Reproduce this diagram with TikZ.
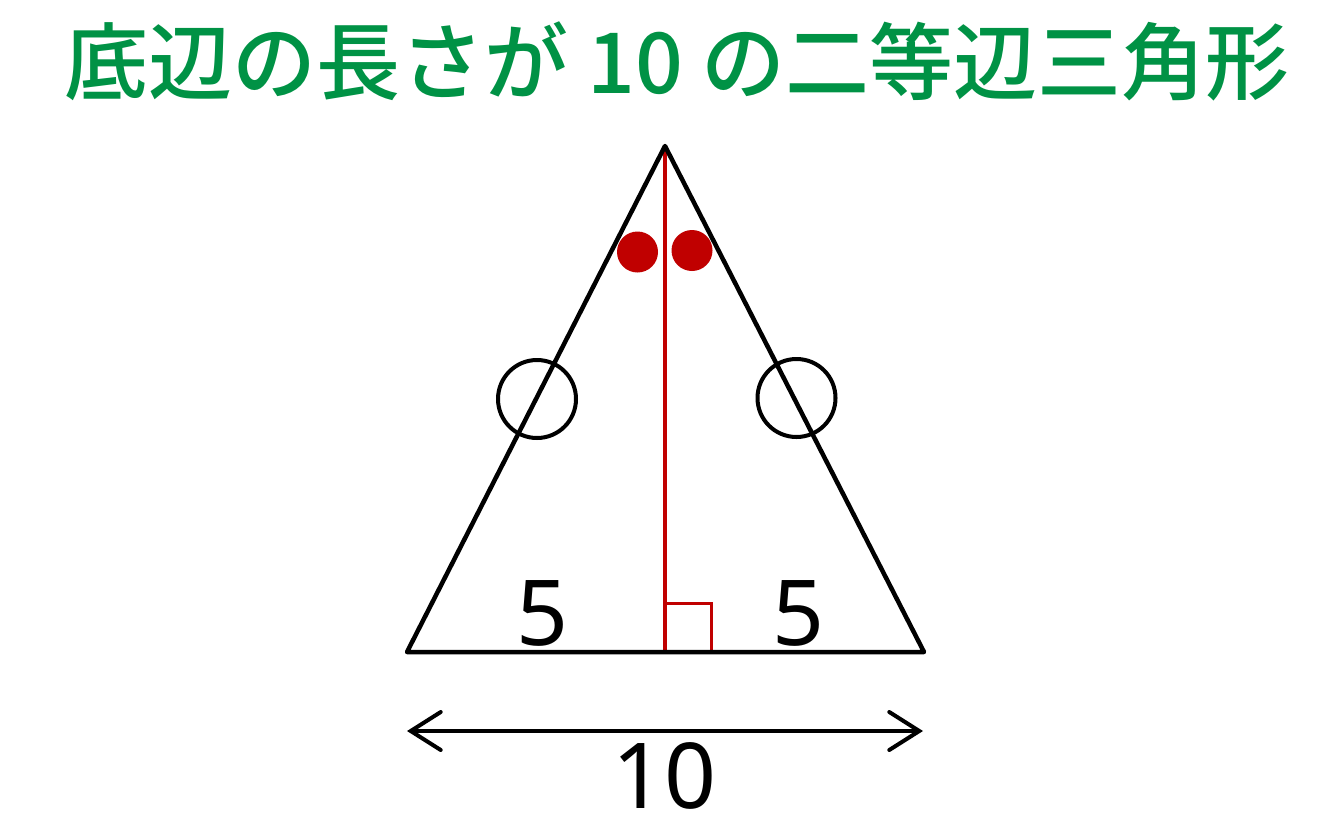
\documentclass[tikz,border=0pt]{standalone}
\usepackage{fontspec}
\newfontfamily\cjk{Noto Sans CJK JP}[UprightFont=* Medium]
\newfontfamily\digits{Noto Sans}
\usetikzlibrary{arrows.meta}
\definecolor{titlegreen}{RGB}{0,146,69}
\definecolor{markred}{RGB}{192,0,0}
\tikzset{
  side/.style={line width=4.5pt, line cap=round, line join=round},
  redline/.style={markred, line width=3.5pt},
  ringmark/.style={circle, draw, line width=4pt, minimum size=78pt, inner sep=0pt},
  dotmark/.style={circle, fill=markred, minimum size=41pt, inner sep=0pt},
  numlabel/.style={font=\digits\fontsize{91}{100}\selectfont, inner sep=0pt, anchor=base},
}
\begin{document}
\begin{tikzpicture}[x=1pt, y=-1pt]
\useasboundingbox (0,0) rectangle (1333,839);
\node[font=\cjk\fontsize{84}{94}\selectfont, text=titlegreen, inner sep=0pt, anchor=base] (title) at (677,93) {底辺の長さが 10 の二等辺三角形};
\coordinate (A) at (665,146);
\coordinate (B) at (407,652);
\coordinate (C) at (924,652);
\coordinate (M) at (665,652);
\coordinate (R1) at (711,652);
\coordinate (R2) at (711,603);
\coordinate (R3) at (665,603);
\coordinate (L) at (407,731);
\coordinate (Rt) at (923,731);
% red median and right-angle mark
\draw[redline] (A) -- (M);
\draw[redline, line width=3pt] (R3) -- (R2) -- (R1);
% triangle
\draw[side] (B) -- (A) -- (C) -- cycle;
% equal-side marks
\node[ringmark] (c1) at (537,399) {};
\node[ringmark] (c2) at (796.5,398) {};
% equal-angle marks
\node[dotmark] (d1) at (637.5,252) {};
\node[dotmark] (d2) at (692,250.5) {};
% labels
\node[numlabel] (h1) at (542.5,645) {5};
\node[numlabel] (h2) at (799,645) {5};
% dimension arrow
\draw[line width=4pt, {Straight Barb[length=30pt,width=38pt,line cap=round]}-{Straight Barb[length=30pt,width=38pt,line cap=round]}] (L) -- (Rt);
\node[numlabel] (ten) at (664.5,808) {10};
\end{tikzpicture}
\end{document}
